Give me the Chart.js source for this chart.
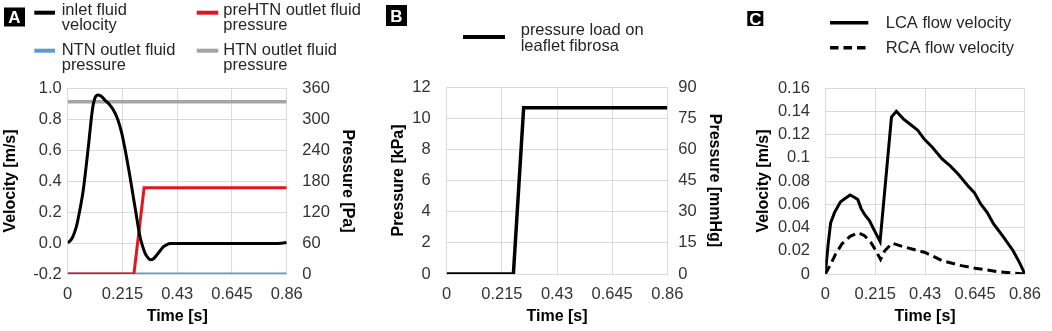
<!DOCTYPE html>
<html>
<head>
<meta charset="utf-8">
<script src="https://cdn.jsdelivr.net/npm/chart.js@4.4.1/dist/chart.umd.min.js"></script>
<style>
  html, body { margin: 0; padding: 0; background: #ffffff; }
  body { width: 1052px; height: 331px; position: relative; overflow: hidden; }
  canvas { position: absolute; top: 0; }
</style>
</head>
<body>
<canvas id="cA" width="366" height="331" style="left:0px"></canvas>
<canvas id="cB" width="366" height="331" style="left:358px"></canvas>
<canvas id="cC" width="328" height="331" style="left:724px"></canvas>
<script>
// ---------- data ----------
const timeTicks = [0, 0.215, 0.43, 0.645, 0.86];
const timeTickLabels = ['0', '0.215', '0.43', '0.645', '0.86'];

// Panel A
const velTicksA = [-0.2, 0, 0.2, 0.4, 0.6, 0.8, 1.0];
const velTickLabelsA = ['-0.2', '0.0', '0.2', '0.4', '0.6', '0.8', '1.0'];
const paTicksA = [0, 60, 120, 180, 240, 300, 360];
const paTickLabelsA = ['0', '60', '120', '180', '240', '300', '360'];

const inletTime = [0, 0.015, 0.025, 0.034, 0.045, 0.061, 0.081, 0.097, 0.107, 0.12, 0.133, 0.147, 0.163, 0.179, 0.196, 0.212, 0.238, 0.264, 0.284, 0.294, 0.304, 0.315, 0.326, 0.338, 0.35, 0.363, 0.376, 0.39, 0.402, 0.42, 0.6, 0.8, 0.84, 0.86];
const inletVelocity = [0, 0.025, 0.06, 0.105, 0.19, 0.34, 0.62, 0.86, 0.935, 0.955, 0.945, 0.92, 0.895, 0.86, 0.8, 0.71, 0.49, 0.234, 0.04, -0.02, -0.067, -0.095, -0.108, -0.1, -0.077, -0.05, -0.024, -0.01, -0.004, -0.004, -0.004, -0.004, -0.002, 0.003];

const ntnTime = [0, 0.86];
const ntnPressure = [0, 0];
const preHtnTime = [0, 0.26, 0.3, 0.86];
const preHtnPressure = [0, 0, 166.7, 166.7];
const htnTime = [0, 0.86];
const htnPressure = [333.3, 333.3];

const legendTextA = [
  ['inlet fluid', 'velocity'],
  ['preHTN outlet fluid', 'pressure'],
  ['NTN outlet fluid', 'pressure'],
  ['HTN outlet fluid', 'pressure']
];

// Panel B
const kpaTicksB = [0, 2, 4, 6, 8, 10, 12];
const kpaTickLabelsB = ['0', '2', '4', '6', '8', '10', '12'];
const mmHgTicksB = [0, 15, 30, 45, 60, 75, 90];
const mmHgTickLabelsB = ['0', '15', '30', '45', '60', '75', '90'];
const loadTime = [0, 0.26, 0.3, 0.86];
const loadPressure = [0, 0, 10.67, 10.67];
const legendTextB = [['pressure load on', 'leaflet fibrosa']];

// Panel C
const velTicksC = [0, 0.02, 0.04, 0.06, 0.08, 0.1, 0.12, 0.14, 0.16];
const velTickLabelsC = ['0', '0.02', '0.04', '0.06', '0.08', '0.1', '0.12', '0.14', '0.16'];
const lcaTime = [0, 0.012, 0.023, 0.04, 0.065, 0.085, 0.107, 0.125, 0.14, 0.155, 0.17, 0.19, 0.21, 0.236, 0.285, 0.306, 0.336, 0.371, 0.399, 0.426, 0.461, 0.503, 0.538, 0.572, 0.614, 0.642, 0.67, 0.697, 0.725, 0.767, 0.809, 0.836, 0.86];
const lcaVelocity = [0, 0.025, 0.044, 0.053, 0.062, 0.065, 0.068, 0.066, 0.064, 0.056, 0.051, 0.046, 0.038, 0.028, 0.135, 0.14, 0.1335, 0.128, 0.1235, 0.116, 0.109, 0.099, 0.093, 0.086, 0.076, 0.07, 0.06, 0.053, 0.043, 0.032, 0.02, 0.01, 0];
const rcaTime = [0, 0.024, 0.044, 0.072, 0.107, 0.142, 0.169, 0.197, 0.218, 0.238, 0.256, 0.288, 0.336, 0.43, 0.503, 0.586, 0.645, 0.75, 0.8, 0.86];
const rcaVelocity = [0, 0.0086, 0.017, 0.026, 0.0324, 0.0355, 0.033, 0.027, 0.02, 0.0125, 0.02, 0.0265, 0.0235, 0.0185, 0.0115, 0.0072, 0.005, 0.0018, 0.001, 0];
const legendTextC = [['LCA flow velocity'], ['RCA flow velocity']];

// ---------- styles ----------
const FAMILY = '"Liberation Sans", Arial, Helvetica, sans-serif';
const tickFont = { family: FAMILY, size: 16.5 };
const titleFont = { family: FAMILY, size: 16, weight: 'bold' };
const tickColor = '#333333';
const gridColor = '#d9d9d9';

const pts = (xs, ys) => xs.map((x, i) => ({ x: x, y: ys[i] }));

function fixedTicks(values) {
  return s => { s.ticks = values.map(v => ({ value: v })); };
}

function xAxis() {
  return {
    type: 'linear', min: 0, max: 0.86,
    afterBuildTicks: fixedTicks(timeTicks),
    afterFit: s => { s.height = 57; },
    ticks: { callback: (v, i) => timeTickLabels[i], font: tickFont, color: tickColor, padding: 11, maxRotation: 0, autoSkip: false },
    grid: { color: gridColor, drawTicks: false },
    border: { color: gridColor },
    title: { display: true, text: 'Time [s]', font: titleFont, color: '#000', padding: { top: 0, bottom: 4.4 } }
  };
}

function yAxis(o) {
  return {
    type: 'linear', position: o.position, min: o.min, max: o.max,
    afterBuildTicks: fixedTicks(o.ticks),
    afterFit: s => { s.width = o.width; },
    ticks: { callback: (v, i) => o.labels[i], font: tickFont, color: tickColor, padding: o.pad, autoSkip: false },
    grid: { color: gridColor, drawTicks: false, drawOnChartArea: o.position === 'left' },
    border: { color: gridColor },
    title: { display: true, text: o.title, font: titleFont, color: '#000', padding: { top: o.titlePad, bottom: 0 } }
  };
}

const overlay = {
  id: 'overlay',
  afterDraw(chart, args, opts) {
    const ctx = chart.ctx;
    ctx.save();
    const b = opts.badge;
    ctx.fillStyle = '#000';
    ctx.fillRect(b.x, b.y, b.w, b.h);
    ctx.fillStyle = '#fff';
    ctx.font = 'bold 17px ' + FAMILY;
    ctx.textAlign = 'center';
    ctx.textBaseline = 'alphabetic';
    ctx.fillText(b.text, b.x + b.w / 2, b.y + b.h / 2 + 6);
    opts.items.forEach(it => {
      const ds = chart.data.datasets[it.dataset];
      ctx.strokeStyle = ds.borderColor;
      ctx.lineWidth = it.lw;
      ctx.setLineDash(it.dash || []);
      ctx.beginPath();
      ctx.moveTo(it.x0, it.my);
      ctx.lineTo(it.x1, it.my);
      ctx.stroke();
      ctx.setLineDash([]);
      ctx.fillStyle = '#262626';
      ctx.font = '16.5px ' + FAMILY;
      ctx.textAlign = 'left';
      ctx.textBaseline = 'alphabetic';
      it.lines.forEach((ln, j) => ctx.fillText(ln, it.tx, it.by + j * it.lh));
    });
    ctx.restore();
  }
};

const common = {
  responsive: false,
  animation: false,
  devicePixelRatio: 1,
  elements: { point: { radius: 0 } }
};

// ---------- Panel A ----------
new Chart(document.getElementById('cA'), {
  type: 'line',
  data: {
    datasets: [
      { label: legendTextA[0].join(' '), data: pts(inletTime, inletVelocity), yAxisID: 'y', borderColor: '#000000', borderWidth: 3, cubicInterpolationMode: 'monotone', fill: false },
      { label: legendTextA[1].join(' '), data: pts(preHtnTime, preHtnPressure), yAxisID: 'y2', borderColor: '#e3161d', borderWidth: 3, tension: 0, fill: false },
      { label: legendTextA[2].join(' '), data: pts(ntnTime, ntnPressure), yAxisID: 'y2', borderColor: '#5b9bd5', borderWidth: 3, tension: 0, fill: false },
      { label: legendTextA[3].join(' '), data: pts(htnTime, htnPressure), yAxisID: 'y2', borderColor: '#a5a5a5', borderWidth: 3.5, tension: 0, fill: false }
    ]
  },
  options: Object.assign({}, common, {
    layout: { padding: { top: 88, left: 0, right: 8, bottom: 0 } },
    scales: {
      x: xAxis(),
      y: yAxis({ position: 'left', min: -0.2, max: 1.0, ticks: velTicksA, labels: velTickLabelsA, width: 67.7, pad: 6, title: 'Velocity [m/s]', titlePad: 0.7 }),
      y2: yAxis({ position: 'right', min: 0, max: 360, ticks: paTicksA, labels: paTickLabelsA, width: 71.3, pad: 15.6, title: 'Pressure [Pa]', titlePad: 0.9 })
    },
    plugins: {
      legend: { display: false },
      tooltip: { enabled: false },
      overlay: {
        badge: { x: 4, y: 7.5, w: 21, h: 19, text: 'A' },
        items: [
          { dataset: 0, x0: 34.3, x1: 55, my: 12.7, lw: 4, tx: 61.7, by: 15, lh: 15, lines: legendTextA[0] },
          { dataset: 1, x0: 196.7, x1: 218.3, my: 12.7, lw: 4, tx: 223.3, by: 15, lh: 15, lines: legendTextA[1] },
          { dataset: 2, x0: 34.3, x1: 55, my: 50.7, lw: 4, tx: 61.7, by: 54.5, lh: 15, lines: legendTextA[2] },
          { dataset: 3, x0: 196.7, x1: 218.3, my: 50.7, lw: 4, tx: 223.3, by: 54.5, lh: 15, lines: legendTextA[3] }
        ]
      }
    }
  }),
  plugins: [overlay]
});

// ---------- Panel B ----------
new Chart(document.getElementById('cB'), {
  type: 'line',
  data: {
    datasets: [
      { label: legendTextB[0].join(' '), data: pts(loadTime, loadPressure), yAxisID: 'y', borderColor: '#000000', borderWidth: 3.5, tension: 0, fill: false }
    ]
  },
  options: Object.assign({}, common, {
    layout: { padding: { top: 87, left: 0, right: 0, bottom: 0 } },
    scales: {
      x: xAxis(),
      y: yAxis({ position: 'left', min: 0, max: 12, ticks: kpaTicksB, labels: kpaTickLabelsB, width: 88.7, pad: 16, title: 'Pressure [kPa]', titlePad: 31.4 }),
      y2: yAxis({ position: 'right', min: 0, max: 90, ticks: mmHgTicksB, labels: mmHgTickLabelsB, width: 56.7, pad: 11, title: 'Pressure [mmHg]', titlePad: 0.4 })
    },
    plugins: {
      legend: { display: false },
      tooltip: { enabled: false },
      overlay: {
        badge: { x: 28, y: 5, w: 21, h: 21, text: 'B' },
        items: [
          { dataset: 0, x0: 105, x1: 147, my: 37, lw: 4, tx: 162.7, by: 35, lh: 16, lines: legendTextB[0] }
        ]
      }
    }
  }),
  plugins: [overlay]
});

// ---------- Panel C ----------
new Chart(document.getElementById('cC'), {
  type: 'line',
  data: {
    datasets: [
      { label: legendTextC[0].join(' '), data: pts(lcaTime, lcaVelocity), borderColor: '#000000', borderWidth: 3, tension: 0, fill: false },
      { label: legendTextC[1].join(' '), data: pts(rcaTime, rcaVelocity), borderColor: '#000000', borderWidth: 3, borderDash: [9, 5], tension: 0, fill: false }
    ]
  },
  options: Object.assign({}, common, {
    layout: { padding: { top: 88, left: 0, right: 18.7, bottom: 0 } },
    scales: {
      x: xAxis(),
      y: yAxis({ position: 'left', min: 0, max: 0.16, ticks: velTicksC, labels: velTickLabelsC, width: 101.3, pad: 15.3, title: 'Velocity [m/s]', titlePad: 29.7 })
    },
    plugins: {
      legend: { display: false },
      tooltip: { enabled: false },
      overlay: {
        badge: { x: 23.3, y: 11, w: 16, h: 15, text: 'C' },
        items: [
          { dataset: 0, x0: 106, x1: 144.3, my: 22.7, lw: 3.5, tx: 161.7, by: 28.3, lh: 16, lines: legendTextC[0] },
          { dataset: 1, x0: 106, x1: 144.3, my: 47.7, lw: 3.5, dash: [8.5, 5], tx: 161.7, by: 53.3, lh: 16, lines: legendTextC[1] }
        ]
      }
    }
  }),
  plugins: [overlay]
});
</script>
</body>
</html>
